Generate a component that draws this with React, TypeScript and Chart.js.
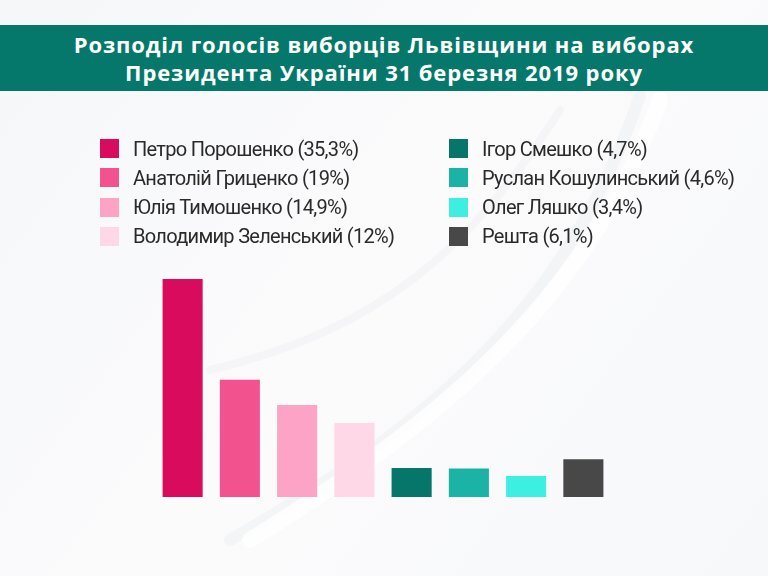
import React, { useEffect, useRef } from 'react';
import { Chart, registerables } from 'chart.js';

Chart.register(...registerables);

const titleLines = [
  'Розподіл голосів виборців Львівщини на виборах',
  'Президента України 31 березня 2019 року',
];

const candidates = [
  'Петро Порошенко',
  'Анатолій Гриценко',
  'Юлія Тимошенко',
  'Володимир Зеленський',
  'Ігор Смешко',
  'Руслан Кошулинський',
  'Олег Ляшко',
  'Решта',
];

const shares = [35.3, 19, 14.9, 12, 4.7, 4.6, 3.4, 6.1];

const shareLabels = ['35,3%', '19%', '14,9%', '12%', '4,7%', '4,6%', '3,4%', '6,1%'];

const barColors = [
  '#d90b5c',
  '#f2538e',
  '#fda4c6',
  '#fed8e6',
  '#06756a',
  '#1ab3a6',
  '#3cefe0',
  '#484848',
];

// soft background with a faint swoosh
const backdrop = {
  id: 'backdrop',
  beforeDraw(chart: Chart) {
    const { ctx, width, height } = chart;
    ctx.save();
    const g = ctx.createLinearGradient(0, 0, width, height);
    g.addColorStop(0, '#f6f7f9');
    g.addColorStop(0.5, '#fbfbfc');
    g.addColorStop(1, '#f7f8fa');
    ctx.fillStyle = g;
    ctx.fillRect(0, 0, width, height);

    ctx.lineCap = 'round';
    ctx.strokeStyle = 'rgba(220,222,226,0.18)';
    ctx.lineWidth = 8;
    ctx.beginPath();
    ctx.moveTo(210, 370);
    ctx.bezierCurveTo(380, 330, 470, 250, 560, 110);
    ctx.stroke();

    ctx.strokeStyle = 'rgba(220,222,226,0.22)';
    ctx.lineWidth = 12;
    ctx.beginPath();
    ctx.moveTo(230, 540);
    ctx.bezierCurveTo(440, 420, 570, 300, 640, 95);
    ctx.stroke();

    ctx.strokeStyle = 'rgba(255,255,255,0.8)';
    ctx.lineWidth = 16;
    ctx.beginPath();
    ctx.moveTo(250, 540);
    ctx.bezierCurveTo(460, 410, 590, 290, 660, 100);
    ctx.stroke();
    ctx.restore();
  },
};

const BarChart = () => {
  const chartRef = useRef<HTMLCanvasElement>(null);

  useEffect(() => {
    document.body.style.margin = '0';
    if (!chartRef.current) return;
    const myChart = new Chart(chartRef.current, {
      type: 'bar',
      data: {
        labels: candidates,
        datasets: [
          {
            data: shares,
            backgroundColor: barColors,
            borderWidth: 0,
            barPercentage: 0.7,
            categoryPercentage: 1,
          },
        ],
      },
      options: {
        animation: false,
        responsive: false,
        maintainAspectRatio: false,
        layout: { padding: { left: 154, right: 156, top: 279, bottom: 79 } },
        plugins: { legend: { display: false }, tooltip: { enabled: false } },
        scales: {
          x: { display: false },
          y: { display: false, min: 0, max: 35.3 },
        },
      },
      plugins: [backdrop],
    });

    return () => {
      myChart.destroy();
    };
  }, []);

  return <canvas ref={chartRef} width={768} height={576} style={{ position: 'absolute', left: 0, top: 0 }} />;
};

const App = () => {
  return (
    <div style={{ position: 'relative', width: 768, height: 576, overflow: 'hidden' }}>
      <BarChart />
      <div
        style={{
          position: 'absolute',
          left: 0,
          top: 25,
          width: 768,
          height: 66,
          background: '#05786b',
          color: '#fff',
          fontFamily: '"Open Sans", sans-serif',
          fontWeight: 700,
          fontSize: 22,
          letterSpacing: 0.9,
          lineHeight: '28px',
          textAlign: 'center',
          paddingTop: 5,
          boxSizing: 'border-box',
        }}
      >
        {titleLines.map((t) => (
          <div key={t}>{t}</div>
        ))}
      </div>
      {candidates.map((name, i) => {
        const col = i < 4 ? 0 : 1;
        const row = i % 4;
        return (
          <div
            key={name}
            style={{
              position: 'absolute',
              left: col === 0 ? 100 : 449,
              top: 139 + row * 29.3,
              display: 'flex',
              alignItems: 'center',
              height: 19,
              fontFamily: 'Roboto, sans-serif',
              fontSize: 20,
              letterSpacing: -0.7,
              color: '#2a2a2a',
              whiteSpace: 'nowrap',
            }}
          >
            <span style={{ width: 19, height: 19, background: barColors[i], marginRight: 14, flex: 'none' }} />
            <span>{`${name} (${shareLabels[i]})`}</span>
          </div>
        );
      })}
    </div>
  );
};

export default App;
